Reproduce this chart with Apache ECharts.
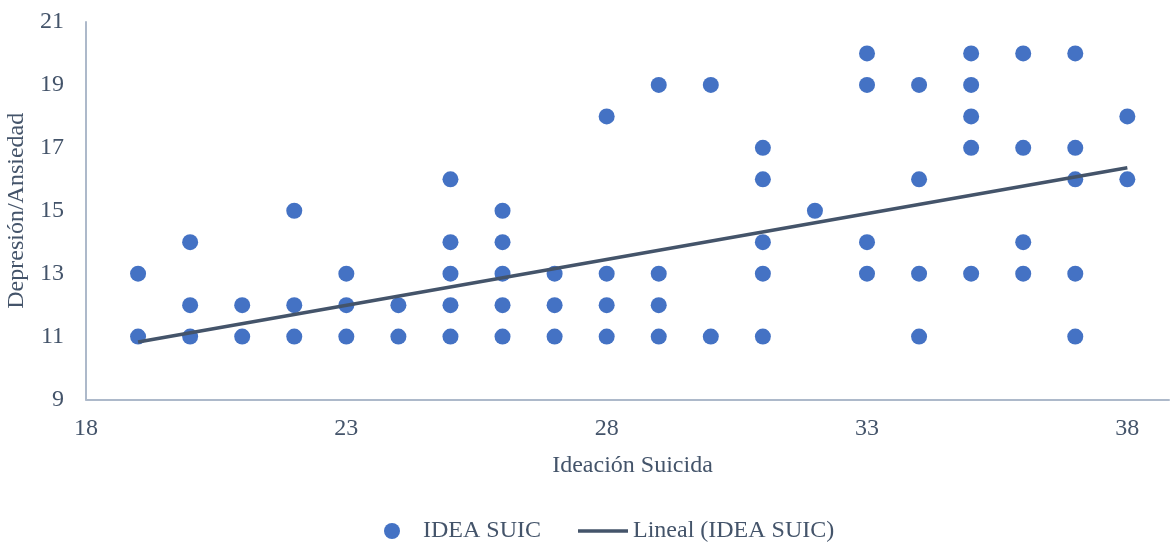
<!DOCTYPE html>
<html>
<head>
<meta charset="utf-8">
<script src="https://cdn.jsdelivr.net/npm/echarts@6/dist/echarts.min.js"></script>
<style>html,body{margin:0;padding:0;background:#fff}#c{width:1170px;height:542px}</style>
</head>
<body>
<div id="c"></div>
<script>
const ideacion = [19,19,20,20,20,21,21,22,22,22,23,23,23,24,24,25,25,25,25,25,26,26,26,26,26,27,27,27,28,28,28,28,29,29,29,29,30,30,31,31,31,31,31,32,33,33,33,33,34,34,34,34,35,35,35,35,35,36,36,36,36,37,37,37,37,37,38,38];
const depresion = [13,11,14,12,11,12,11,15,12,11,13,12,11,12,11,16,14,13,12,11,15,14,13,12,11,13,12,11,18,13,12,11,19,13,12,11,19,11,17,16,14,13,11,15,20,19,14,13,19,16,13,11,20,19,18,17,13,20,17,14,13,20,17,16,13,11,18,16];
const trendX = [19, 38];
const trendY = [10.83, 16.37];
const seriesNames = ['IDEA SUIC', 'Lineal (IDEA SUIC)'];
const xTitle = 'Ideación Suicida';
const yTitle = 'Depresión/Ansiedad';

const font = "'Liberation Serif', 'Times New Roman', serif";
const txt = '#44546A';
const chart = echarts.init(document.getElementById('c'));
chart.setOption({
  animation: false,
  textStyle: { fontFamily: font },
  grid: { left: 86, right: 1, top: 22, bottom: 142.5, containLabel: false, outerBoundsMode: 'none' },
  xAxis: {
    type: 'value', min: 18, max: 38.8, interval: 5,
    name: xTitle, nameLocation: 'middle', nameGap: 54,
    nameTextStyle: { fontFamily: font, fontSize: 24, color: txt, padding: [0, 0, 0, 10] },
    axisLine: { show: true, lineStyle: { color: '#ADB9CA', width: 2 } },
    axisTick: { show: false },
    splitLine: { show: false },
    axisLabel: { fontFamily: font, fontSize: 24, color: txt, margin: 17,
      formatter: v => (Math.abs(v - Math.round(v)) < 1e-6 ? String(Math.round(v)) : '') }
  },
  yAxis: {
    type: 'value', min: 9, max: 21, interval: 2,
    name: yTitle, nameLocation: 'middle', nameGap: 50,
    nameTextStyle: { fontFamily: font, fontSize: 24, color: txt },
    axisLine: { show: true, lineStyle: { color: '#ADB9CA', width: 2 } },
    axisTick: { show: false },
    splitLine: { show: false },
    axisLabel: { fontFamily: font, fontSize: 24, color: txt, margin: 22 }
  },
  legend: [
    {
      left: 379, top: 514,
      itemWidth: 16, itemHeight: 16,
      textStyle: { fontFamily: font, fontSize: 24, color: txt, padding: [0, 0, 0, 18] },
      data: [{ name: seriesNames[0], icon: 'circle' }]
    },
    {
      left: 573, top: 514,
      itemWidth: 50, itemHeight: 3.5,
      textStyle: { fontFamily: font, fontSize: 24, color: txt },
      data: [{ name: seriesNames[1], icon: 'rect', itemStyle: { color: '#44546A' } }]
    }
  ],
  series: [
    {
      name: seriesNames[0], type: 'scatter', symbolSize: 16,
      itemStyle: { color: '#4472C4', opacity: 1 },
      data: ideacion.map((x, i) => [x, depresion[i]]),
      z: 2
    },
    {
      name: seriesNames[1], type: 'line', symbol: 'none',
      lineStyle: { color: '#44546A', width: 3.5 },
      itemStyle: { color: '#44546A' },
      data: trendX.map((x, i) => [x, trendY[i]]),
      z: 3
    }
  ]
});
</script>
</body>
</html>
